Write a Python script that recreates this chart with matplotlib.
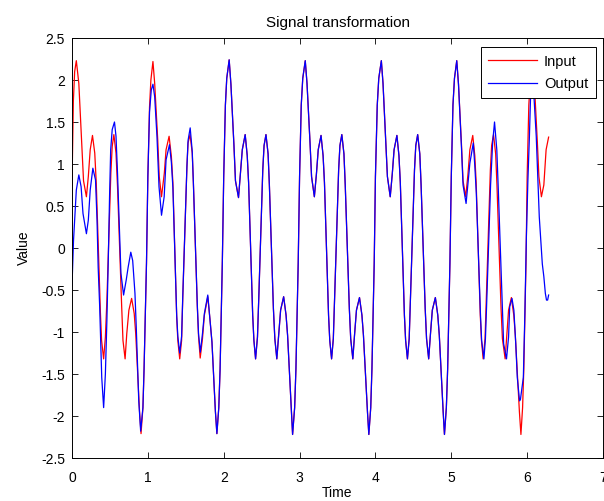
import matplotlib
matplotlib.use("Agg")
import matplotlib.pyplot as plt
from matplotlib.ticker import FuncFormatter

plt.rcParams['font.family'] = ['Liberation Sans', 'DejaVu Sans']
plt.rcParams['font.size'] = 10

# input only (periods 0-1)
in_head_t = [0.000, 0.018, 0.035, 0.057, 0.090, 0.130, 0.152, 0.190, 0.215, 0.240, 0.270, 0.300,
             0.320, 0.375, 0.390, 0.417, 0.440, 0.460, 0.512, 0.530, 0.552, 0.580, 0.600, 0.655,
             0.672, 0.700, 0.722, 0.750, 0.786, 0.820, 0.840, 0.890, 0.910, 0.935, 0.950, 0.982,
             1.000, 1.022, 1.040, 1.067, 1.090, 1.130, 1.150, 1.180, 1.217, 1.240, 1.280, 1.310,
             1.330, 1.380, 1.395, 1.420, 1.445, 1.460, 1.515, 1.530, 1.556, 1.585, 1.600, 1.652,
             1.668, 1.690, 1.720, 1.745, 1.790, 1.820, 1.845, 1.890, 1.910, 1.935, 1.952, 1.982]
in_head_v = [0.75, 1.75, 2.10, 2.23, 1.96, 1.22, 0.80, 0.61, 0.85, 1.17, 1.34, 1.13,
             0.77, -0.78, -1.10, -1.32, -1.06, -0.62, 0.89, 1.21, 1.35, 1.13, 0.73, -0.70,
             -1.10, -1.32, -1.02, -0.74, -0.60, -0.78, -1.02, -1.94, -2.21, -1.90, -1.44, -0.18,
             0.85, 1.68, 2.00, 2.22, 1.96, 1.29, 0.85, 0.61, 0.89, 1.17, 1.33, 1.09,
             0.78, -0.82, -1.10, -1.32, -1.10, -0.60, 0.97, 1.25, 1.35, 1.13, 0.78, -0.70,
             -1.05, -1.31, -1.08, -0.80, -0.58, -0.86, -1.12, -1.94, -2.21, -1.90, -1.45, -0.16]

# output only (periods 0-1)
out_head_t = [0.000, 0.020, 0.040, 0.057, 0.090, 0.120, 0.145, 0.190, 0.215, 0.240, 0.275, 0.310,
              0.330, 0.345, 0.365, 0.380, 0.392, 0.417, 0.440, 0.460, 0.480, 0.495, 0.510, 0.530,
              0.560, 0.580, 0.600, 0.620, 0.645, 0.680, 0.715, 0.740, 0.775, 0.800, 0.830, 0.847,
              0.865, 0.880, 0.905, 0.935, 0.950, 0.982,
              1.000, 1.022, 1.045, 1.067, 1.090, 1.120, 1.147, 1.180, 1.215, 1.240, 1.285, 1.310,
              1.330, 1.380, 1.395, 1.420, 1.445, 1.460, 1.515, 1.530, 1.558, 1.585, 1.600, 1.652,
              1.668, 1.692, 1.720, 1.745, 1.790, 1.820, 1.845, 1.890, 1.910, 1.935, 1.952, 1.982]
out_head_v = [-0.45, 0.09, 0.41, 0.69, 0.87, 0.73, 0.41, 0.17, 0.33, 0.69, 0.95, 0.81,
              0.33, -0.23, -0.70, -1.18, -1.54, -1.90, -1.50, -0.86, -0.07, 0.61, 1.17, 1.41,
              1.50, 1.33, 0.89, 0.37, -0.30, -0.56, -0.38, -0.23, -0.05, -0.15, -0.54, -0.94,
              -1.42, -1.82, -2.18, -1.90, -1.44, -0.18,
              0.85, 1.62, 1.88, 1.95, 1.80, 1.33, 0.73, 0.39, 0.61, 1.05, 1.23, 1.02,
              0.72, -0.80, -1.05, -1.25, -1.05, -0.58, 0.97, 1.28, 1.43, 1.15, 0.78, -0.68,
              -1.02, -1.24, -1.02, -0.78, -0.56, -0.86, -1.12, -1.94, -2.21, -1.90, -1.45, -0.16]

# periods 2-4, where input and output lie on top of each other
mid_t = [2.000, 2.022, 2.040, 2.072, 2.095, 2.135, 2.155, 2.195, 2.220, 2.245, 2.283, 2.310,
         2.328, 2.382, 2.398, 2.420, 2.445, 2.462, 2.515, 2.532, 2.557, 2.585, 2.602, 2.655,
         2.674, 2.700, 2.725, 2.750, 2.790, 2.822, 2.842, 2.893, 2.908, 2.935, 2.952, 2.982,
         3.000, 3.022, 3.042, 3.075, 3.098, 3.138, 3.158, 3.195, 3.222, 3.246, 3.283, 3.310,
         3.328, 3.382, 3.398, 3.422, 3.445, 3.462, 3.515, 3.532, 3.557, 3.585, 3.602, 3.656,
         3.674, 3.702, 3.725, 3.750, 3.790, 3.822, 3.842, 3.895, 3.913, 3.938, 3.954, 3.984,
         4.000, 4.024, 4.044, 4.078, 4.100, 4.138, 4.158, 4.195, 4.222, 4.246, 4.283, 4.310,
         4.328, 4.382, 4.398, 4.422, 4.445, 4.462, 4.515, 4.532, 4.557, 4.585, 4.602, 4.656,
         4.674, 4.702, 4.725, 4.750, 4.790, 4.822, 4.842, 4.893, 4.910, 4.935, 4.952, 4.982]
mid_v = [0.85, 1.70, 2.02, 2.24, 1.95, 1.22, 0.80, 0.60, 0.88, 1.17, 1.35, 1.10,
         0.78, -0.80, -1.10, -1.32, -1.06, -0.60, 0.93, 1.22, 1.35, 1.12, 0.75, -0.72,
         -1.08, -1.32, -1.03, -0.74, -0.58, -0.80, -1.04, -1.95, -2.22, -1.90, -1.44, -0.18,
         0.85, 1.70, 2.02, 2.23, 1.96, 1.25, 0.85, 0.61, 0.88, 1.17, 1.34, 1.10,
         0.78, -0.80, -1.10, -1.32, -1.08, -0.60, 0.93, 1.22, 1.35, 1.12, 0.75, -0.72,
         -1.08, -1.32, -1.03, -0.74, -0.59, -0.80, -1.04, -1.95, -2.22, -1.90, -1.44, -0.18,
         0.85, 1.70, 2.02, 2.23, 1.96, 1.25, 0.85, 0.61, 0.88, 1.17, 1.34, 1.10,
         0.78, -0.80, -1.10, -1.32, -1.08, -0.60, 0.93, 1.22, 1.35, 1.12, 0.75, -0.72,
         -1.08, -1.32, -1.03, -0.74, -0.59, -0.80, -1.04, -1.95, -2.22, -1.90, -1.44, -0.18]

# input only (period 5 to the end)
in_tail_t = [5.000, 5.022, 5.042, 5.072, 5.095, 5.135, 5.155, 5.190, 5.220, 5.245, 5.283, 5.310,
             5.328, 5.382, 5.398, 5.420, 5.445, 5.462, 5.515, 5.532, 5.557, 5.585, 5.602, 5.656,
             5.674, 5.710, 5.732, 5.755, 5.792, 5.824, 5.844, 5.898, 5.918, 5.940, 5.956, 5.985,
             6.000, 6.022, 6.042, 6.070, 6.095, 6.135, 6.155, 6.188, 6.220, 6.250, 6.283]
in_tail_v = [0.85, 1.70, 2.02, 2.23, 1.95, 1.22, 0.80, 0.61, 0.88, 1.17, 1.34, 1.10,
             0.78, -0.80, -1.10, -1.32, -1.08, -0.60, 0.93, 1.22, 1.35, 1.12, 0.75, -0.72,
             -1.08, -1.32, -1.03, -0.74, -0.59, -0.80, -1.04, -1.95, -2.22, -1.90, -1.44, -0.18,
             0.85, 1.70, 2.02, 2.23, 1.96, 1.25, 0.85, 0.61, 0.75, 1.17, 1.32]

# output only (period 5 to the end)
out_tail_t = [5.000, 5.022, 5.042, 5.072, 5.095, 5.135, 5.155, 5.195, 5.245, 5.290, 5.310, 5.330,
              5.385, 5.400, 5.430, 5.450, 5.465, 5.518, 5.545, 5.570, 5.600, 5.620, 5.675, 5.690,
              5.728, 5.755, 5.770, 5.800, 5.825, 5.850, 5.870, 5.900, 5.912, 5.950, 5.970, 5.990,
              6.010, 6.030, 6.045, 6.065, 6.090, 6.120, 6.140, 6.160, 6.185, 6.200, 6.220, 6.240,
              6.255, 6.270, 6.283]
out_tail_v = [0.85, 1.70, 2.02, 2.23, 1.95, 1.18, 0.75, 0.53, 1.01, 1.25, 0.98, 0.65,
              -0.80, -1.10, -1.32, -1.08, -0.70, 0.75, 1.25, 1.50, 1.17, 0.69, -0.74, -1.14,
              -1.32, -1.06, -0.70, -0.60, -0.74, -1.14, -1.54, -1.82, -1.80, -1.54, -0.78, 0.13,
              0.81, 1.33, 1.80, 1.95, 1.80, 1.33, 0.85, 0.37, 0.01, -0.19, -0.34, -0.54,
              -0.62, -0.62, -0.56]

input_t = in_head_t + mid_t + in_tail_t
input_v = in_head_v + mid_v + in_tail_v
output_t = out_head_t + mid_t + out_tail_t
output_v = out_head_v + mid_v + out_tail_v

fig = plt.figure(figsize=(6.04, 5.01), dpi=100)
ax = fig.add_axes([72 / 604, 43 / 501, 531 / 604, 420 / 501])

ax.plot(input_t, input_v, color='#ff0000', lw=0.9, label='Input')
ax.plot(output_t, output_v, color='#0000ff', lw=0.9, label='Output')

ax.set_xlim(0, 7)
ax.set_ylim(-2.5, 2.5)
ax.set_xticks(range(8))
ax.set_yticks([-2.5, -2, -1.5, -1, -0.5, 0, 0.5, 1, 1.5, 2, 2.5])
fmt = FuncFormatter(lambda v, p: '%g' % v)
ax.xaxis.set_major_formatter(fmt)
ax.yaxis.set_major_formatter(fmt)
ax.tick_params(direction='in', top=True, right=True, length=4, width=0.6)
ax.tick_params(axis='x', pad=9)
ax.tick_params(axis='y', pad=5)
for s in ax.spines.values():
    s.set_linewidth(0.7)

ax.set_title('Signal transformation', fontsize=11, pad=8)
ax.set_xlabel('Time', labelpad=1)
ax.set_ylabel('Value', labelpad=7)

leg = ax.legend(loc='upper right', bbox_to_anchor=(0.986, 0.978), borderaxespad=0,
                fancybox=False, edgecolor='black', framealpha=1, fontsize=10.5,
                handlelength=3.4, borderpad=0.5, labelspacing=0.58, handletextpad=0.45)
leg.get_frame().set_linewidth(0.7)

fig.savefig('out.png', dpi=100)
